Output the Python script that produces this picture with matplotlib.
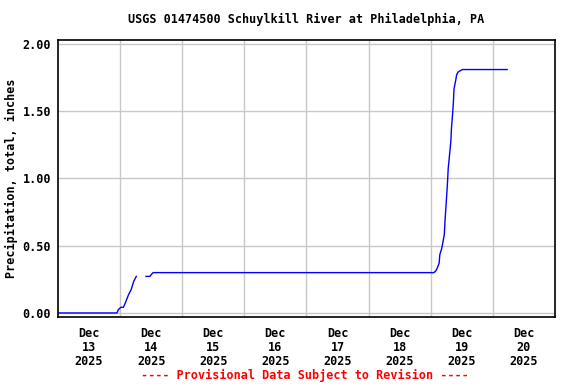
import matplotlib
matplotlib.use("Agg")
import matplotlib.pyplot as plt
import matplotlib.dates as mdates
from matplotlib.ticker import FixedLocator, FuncFormatter
from datetime import datetime, timedelta
import numpy as np

# precipitation readings (cumulative, inches); NaN marks the data gap
tiempos = [
    "2025-12-13 00:00", "2025-12-13 22:45", "2025-12-13 23:20", "2025-12-14 00:15",
    "2025-12-14 01:15", "2025-12-14 02:00", "2025-12-14 03:15", "2025-12-14 04:15",
    "2025-12-14 05:15", "2025-12-14 06:15", "2025-12-14 08:00", "2025-12-14 10:00",
    "2025-12-14 11:30", "2025-12-14 12:15", "2025-12-14 12:45", "2025-12-19 01:15",
    "2025-12-19 02:00", "2025-12-19 02:30", "2025-12-19 03:15", "2025-12-19 03:30",
    "2025-12-19 04:15", "2025-12-19 04:45", "2025-12-19 05:15", "2025-12-19 05:30",
    "2025-12-19 06:00", "2025-12-19 06:30", "2025-12-19 06:45", "2025-12-19 07:15",
    "2025-12-19 07:45", "2025-12-19 08:00", "2025-12-19 08:30", "2025-12-19 08:45",
    "2025-12-19 09:00", "2025-12-19 09:45", "2025-12-19 10:00", "2025-12-19 10:30",
    "2025-12-19 11:15", "2025-12-19 12:15", "2025-12-20 05:30",
]
precip = [
    0.00, 0.00, 0.025, 0.042,
    0.042, 0.074, 0.136, 0.173,
    0.235, 0.272, np.nan, 0.272,
    0.272, 0.29, 0.30, 0.30,
    0.314, 0.333, 0.37, 0.433,
    0.48, 0.53, 0.585, 0.68,
    0.827, 0.976, 1.074, 1.173,
    1.272, 1.37, 1.494, 1.568,
    1.667, 1.74, 1.77, 1.79,
    1.80, 1.81, 1.81,
]
dias = ["2025-12-13", "2025-12-14", "2025-12-15", "2025-12-16",
        "2025-12-17", "2025-12-18", "2025-12-19", "2025-12-20"]
yticks = [0.0, 0.5, 1.0, 1.5, 2.0]

fechas = [datetime.strptime(t, "%Y-%m-%d %H:%M") for t in tiempos]
dias_dt = [datetime.strptime(d, "%Y-%m-%d") for d in dias]

fuente = "DejaVu Sans Mono"
tam = 8.5

fig = plt.figure(figsize=(5.76, 3.84), dpi=100)
ax = fig.add_axes([0.1007, 0.1745, 0.8628, 0.7225])

ax.plot(fechas, precip, color="#0000ff", lw=1.0)

ax.set_xlim(dias_dt[0], dias_dt[-1] + timedelta(days=1))
ax.set_ylim(-0.03, 2.033)

# labels at noon, grid at midnight
mediodias = [mdates.date2num(d + timedelta(hours=12)) for d in dias_dt]
medianoches = [mdates.date2num(d) for d in dias_dt[1:]]
ax.xaxis.set_major_locator(FixedLocator(mediodias))
ax.xaxis.set_minor_locator(FixedLocator(medianoches))
ax.xaxis.set_major_formatter(FuncFormatter(
    lambda x, pos: mdates.num2date(x).strftime("%b\n%d\n%Y")))
ax.set_yticks(yticks)
ax.yaxis.set_major_formatter(FuncFormatter(lambda v, pos: f"{v:.2f}"))

ax.grid(True, which="minor", axis="x", color="#c8c8c8", lw=1.0)
ax.grid(True, which="major", axis="y", color="#c8c8c8", lw=1.0)
ax.tick_params(axis="x", which="major", length=0, pad=7)
ax.tick_params(axis="x", which="minor", length=0)
ax.tick_params(axis="y", length=0, pad=5)
ax.set_axisbelow(True)

for lbl in ax.get_xticklabels():
    lbl.set_fontfamily(fuente)
    lbl.set_fontweight("bold")
    lbl.set_fontsize(tam)
    lbl.set_linespacing(1.1)
for lbl in ax.get_yticklabels():
    lbl.set_fontfamily(fuente)
    lbl.set_fontweight("bold")
    lbl.set_fontsize(tam)

for s in ax.spines.values():
    s.set_linewidth(1.2)
    s.set_color("black")

ax.set_ylabel("Precipitation, total, inches", fontfamily=fuente,
              fontweight="bold", fontsize=tam, labelpad=3)
fig.text(0.531, 1 - 19 / 384, "USGS 01474500 Schuylkill River at Philadelphia, PA",
         ha="center", va="center", fontfamily=fuente, fontweight="bold", fontsize=tam)
fig.text(0.530, 1 - 375 / 384, "---- Provisional Data Subject to Revision ----",
         ha="center", va="center", fontfamily=fuente, fontweight="bold",
         fontsize=tam, color="red")

fig.savefig("out.png", dpi=100)
